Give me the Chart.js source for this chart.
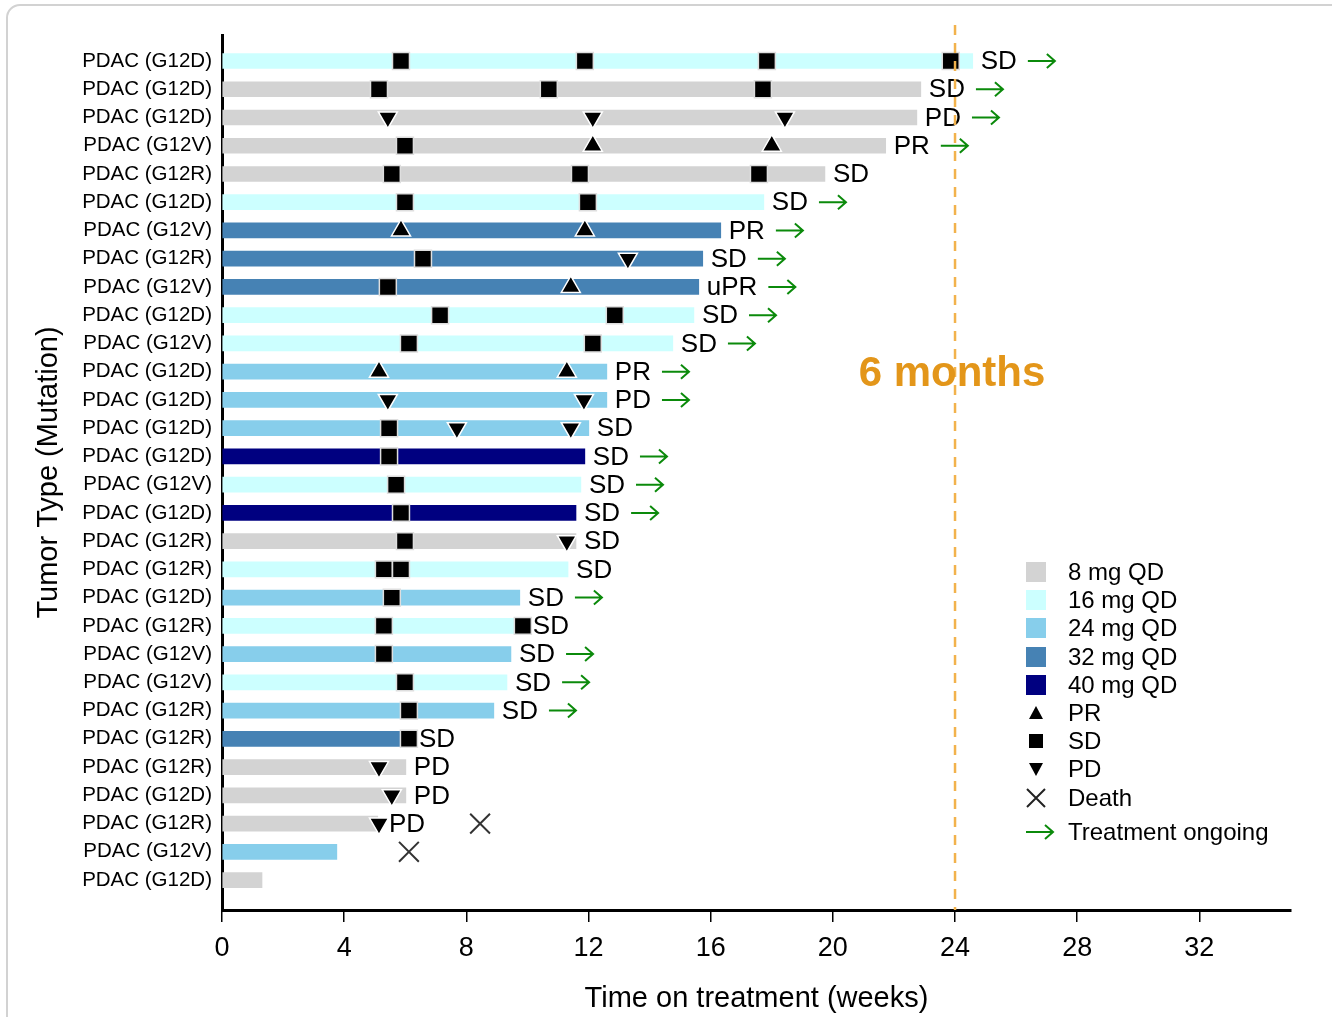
<!DOCTYPE html>
<html>
<head>
<meta charset="utf-8">
<script src="https://cdn.jsdelivr.net/npm/chart.js@4.4.1/dist/chart.umd.min.js"></script>
<style>
  html, body { margin: 0; padding: 0; background: #ffffff; overflow: hidden; }
  #frame {
    position: absolute; left: 6px; top: 4px; width: 1340px; height: 1040px;
    border: 2px solid #d2d2d2; border-radius: 14px; box-sizing: border-box;
  }
  #swim { position: absolute; left: 0; top: 0; }
</style>
</head>
<body>
<div id="frame"></div>
<canvas id="swim" width="1332" height="1017"></canvas>
<script>
// Patients, top to bottom
const rowLabels = [
  'PDAC (G12D)', 'PDAC (G12D)', 'PDAC (G12D)', 'PDAC (G12V)', 'PDAC (G12R)',
  'PDAC (G12D)', 'PDAC (G12V)', 'PDAC (G12R)', 'PDAC (G12V)', 'PDAC (G12D)',
  'PDAC (G12V)', 'PDAC (G12D)', 'PDAC (G12D)', 'PDAC (G12D)', 'PDAC (G12D)',
  'PDAC (G12V)', 'PDAC (G12D)', 'PDAC (G12R)', 'PDAC (G12R)', 'PDAC (G12D)',
  'PDAC (G12R)', 'PDAC (G12V)', 'PDAC (G12V)', 'PDAC (G12R)', 'PDAC (G12R)',
  'PDAC (G12R)', 'PDAC (G12D)', 'PDAC (G12R)', 'PDAC (G12V)', 'PDAC (G12D)'
];

// Dose level (mg QD) per patient
const doseMg = [16, 8, 8, 8, 8, 16, 32, 32, 32, 16, 16, 24, 24, 24, 40,
                16, 40, 8, 16, 24, 16, 24, 16, 24, 32, 8, 8, 8, 24, 8];

// Time on treatment (weeks)
const weeksOnTx = [24.58, 22.88, 22.75, 21.73, 19.74, 17.74, 16.33, 15.74, 15.61, 15.45,
                   14.76, 12.60, 12.60, 12.01, 11.88, 11.75, 11.59, 11.59, 11.33, 9.75,
                   9.66, 9.46, 9.33, 8.90, 5.83, 6.02, 6.02, 5.10, 3.76, 1.31];

// Best overall response and ongoing-treatment flag per patient
const bestResponse = ['SD', 'SD', 'PD', 'PR', 'SD', 'SD', 'PR', 'SD', 'uPR', 'SD',
                      'SD', 'PR', 'PD', 'SD', 'SD', 'SD', 'SD', 'SD', 'SD', 'SD',
                      'SD', 'SD', 'SD', 'SD', 'SD', 'PD', 'PD', 'PD', '', ''];
const ongoing = [1, 1, 1, 1, 0, 1, 1, 1, 1, 1, 1, 1, 1, 0, 1, 1, 1, 0, 0, 1,
                 0, 1, 1, 1, 0, 0, 0, 0, 0, 0];

// Tumour assessments: [row, week]
const prAssess = [[3, 12.14], [3, 18.0], [6, 5.86], [6, 11.88], [8, 11.42], [11, 5.14], [11, 11.29]];
const sdAssess = [
  [0, 5.86], [0, 11.88], [0, 17.84], [0, 23.86],
  [1, 5.14], [1, 10.70], [1, 17.71],
  [3, 5.99],
  [4, 5.56], [4, 11.72], [4, 17.58],
  [5, 5.99], [5, 11.98],
  [7, 6.58], [8, 5.43],
  [9, 7.14], [9, 12.86],
  [10, 6.12], [10, 12.14],
  [13, 5.47], [14, 5.47], [15, 5.70], [16, 5.86], [17, 5.99],
  [18, 5.30], [18, 5.86], [19, 5.56],
  [20, 5.30], [20, 9.85],
  [21, 5.30], [22, 5.99], [23, 6.12], [24, 6.12]
];
const pdAssess = [[2, 5.43], [2, 12.14], [2, 18.43], [7, 13.29], [12, 5.43], [12, 11.85],
                  [13, 7.69], [13, 11.42], [17, 11.29], [25, 5.14], [26, 5.56], [27, 5.14]];
const deaths = [[27, 8.45], [28, 6.12]];

// Axis ticks
const xTicks = [0, 4, 8, 12, 16, 20, 24, 28, 32];
const milestoneWeek = 24;

const doseColors = { 8: '#d3d3d3', 16: '#ccffff', 24: '#87ceeb', 32: '#4682b4', 40: '#000080' };
const doseNames = ['8 mg QD', '16 mg QD', '24 mg QD', '32 mg QD', '40 mg QD'];
const doseKeys = [8, 16, 24, 32, 40];

const FONT = "'Liberation Sans', Arial, sans-serif";
const GREEN = '#0b8a0b';

const toPts = arr => arr.map(([r, w]) => ({ x: w, y: r }));

function drawArrow(ctx, x0, x1, y) {
  ctx.save();
  ctx.strokeStyle = GREEN;
  ctx.lineWidth = 2;
  ctx.beginPath();
  ctx.moveTo(x0, y);
  ctx.lineTo(x1, y);
  ctx.moveTo(x1 - 8, y - 7);
  ctx.lineTo(x1, y);
  ctx.lineTo(x1 - 8, y + 7);
  ctx.stroke();
  ctx.restore();
}

// Response labels, ongoing arrows, 24-week reference line
const annotations = {
  id: 'annotations',
  afterDatasetsDraw(chart) {
    const { ctx, scales: { x, y } } = chart;
    ctx.save();
    ctx.font = `26px ${FONT}`;
    ctx.fillStyle = '#000';
    ctx.textBaseline = 'middle';
    ctx.textAlign = 'left';
    const allAssess = [...prAssess, ...sdAssess, ...pdAssess];
    rowLabels.forEach((_, i) => {
      if (!bestResponse[i]) return;
      const yy = y.getPixelForValue(i) + 1;
      let lx = x.getPixelForValue(weeksOnTx[i]) + 8;
      allAssess.filter(a => a[0] === i).forEach(a => {
        lx = Math.max(lx, x.getPixelForValue(a[1]) + 10);
      });
      ctx.fillText(bestResponse[i], lx, yy);
      if (ongoing[i]) {
        const tw = ctx.measureText(bestResponse[i]).width;
        drawArrow(ctx, lx + tw + 11, lx + tw + 38, yy - 1);
      }
    });

    // 24-week line
    const px = x.getPixelForValue(milestoneWeek);
    ctx.strokeStyle = '#f2b24c';
    ctx.lineWidth = 2.5;
    ctx.setLineDash([10, 8]);
    ctx.beginPath();
    ctx.moveTo(px, 25);
    ctx.lineTo(px, chart.chartArea.bottom);
    ctx.stroke();
    ctx.setLineDash([]);

    ctx.font = `bold 42px ${FONT}`;
    ctx.fillStyle = '#e3961a';
    ctx.textAlign = 'center';
    ctx.fillText('6 months', px - 3, y.getPixelForValue(11.1));
    ctx.restore();
  }
};

// Key for dose colours and symbols
const keyPlugin = {
  id: 'keyPlugin',
  afterDraw(chart) {
    const { ctx } = chart;
    const sx = 1036, tx = 1068;
    const ys = [572, 600, 628, 657, 685, 713, 741, 769, 798, 832];
    ctx.save();
    ctx.font = `24px ${FONT}`;
    ctx.textBaseline = 'middle';
    ctx.textAlign = 'left';
    ctx.fillStyle = '#000';
    doseKeys.forEach((d, k) => {
      ctx.fillStyle = doseColors[d];
      ctx.fillRect(sx - 10, ys[k] - 10, 20, 20);
      ctx.fillStyle = '#000';
      ctx.fillText(doseNames[k], tx, ys[k] + 1);
    });
    // PR
    let yy = ys[5];
    ctx.beginPath();
    ctx.moveTo(sx, yy - 7); ctx.lineTo(sx + 7, yy + 6); ctx.lineTo(sx - 7, yy + 6); ctx.closePath();
    ctx.fill();
    ctx.fillText('PR', tx, yy + 1);
    // SD
    yy = ys[6];
    ctx.fillRect(sx - 7, yy - 7, 14, 14);
    ctx.fillText('SD', tx, yy + 1);
    // PD
    yy = ys[7];
    ctx.beginPath();
    ctx.moveTo(sx - 7, yy - 6); ctx.lineTo(sx + 7, yy - 6); ctx.lineTo(sx, yy + 7); ctx.closePath();
    ctx.fill();
    ctx.fillText('PD', tx, yy + 1);
    // Death
    yy = ys[8];
    ctx.strokeStyle = '#222';
    ctx.lineWidth = 2;
    ctx.beginPath();
    ctx.moveTo(sx - 9, yy - 9); ctx.lineTo(sx + 9, yy + 9);
    ctx.moveTo(sx + 9, yy - 9); ctx.lineTo(sx - 9, yy + 9);
    ctx.stroke();
    ctx.fillText('Death', tx, yy + 1);
    // Ongoing
    yy = ys[9];
    drawArrow(ctx, sx - 10, sx + 17, yy);
    ctx.fillText('Treatment ongoing', tx, yy + 1);
    ctx.restore();
  }
};

const markerBase = { type: 'scatter', borderWidth: 1.5, pointHoverRadius: 0 };

new Chart(document.getElementById('swim'), {
  type: 'bar',
  data: {
    datasets: [
      {
        type: 'bar',
        label: 'Time on treatment',
        data: weeksOnTx.map((w, i) => ({ x: [0, w], y: i })),
        backgroundColor: doseMg.map(d => doseColors[d]),
        barThickness: 15,
        borderWidth: 0,
        order: 2
      },
      Object.assign({}, markerBase, {
        label: 'PR', data: toPts(prAssess), pointStyle: 'triangle', pointRadius: 11,
        backgroundColor: '#000', borderColor: '#ffffff', order: 1
      }),
      Object.assign({}, markerBase, {
        label: 'SD', data: toPts(sdAssess), pointStyle: 'rect', pointRadius: 12,
        backgroundColor: '#000', borderColor: '#dedede', order: 1
      }),
      Object.assign({}, markerBase, {
        label: 'PD', data: toPts(pdAssess), pointStyle: 'triangle', pointRotation: 180, pointRadius: 11,
        backgroundColor: '#000', borderColor: '#ffffff', order: 1
      }),
      Object.assign({}, markerBase, {
        label: 'Death', data: toPts(deaths), pointStyle: 'crossRot', pointRadius: 14,
        backgroundColor: '#333', borderColor: '#333', borderWidth: 2, order: 1
      })
    ]
  },
  options: {
    indexAxis: 'y',
    responsive: false,
    animation: false,
    devicePixelRatio: 1,
    layout: { padding: { left: 0, top: 35, right: 41, bottom: 0 } },
    plugins: { legend: { display: false }, tooltip: { enabled: false } },
    scales: {
      x: {
        type: 'linear',
        position: 'bottom',
        min: 0,
        max: 35,
        offset: false,
        afterBuildTicks: s => { s.ticks = xTicks.map(v => ({ value: v })); },
        afterFit: s => { s.height = 107; },
        ticks: { color: '#000', font: { family: FONT, size: 27 }, padding: 10, includeBounds: false, maxRotation: 0 },
        grid: { display: true, drawOnChartArea: false, drawTicks: true, tickLength: 12, color: '#000', lineWidth: 1.5, offset: false },
        border: { display: true, color: '#000', width: 3 },
        title: {
          display: true, text: 'Time on treatment (weeks)', color: '#000',
          font: { family: FONT, size: 29, lineHeight: 1.2 }, padding: { top: 0, bottom: 1 }
        }
      },
      y: {
        type: 'linear',
        position: 'left',
        reverse: true,
        min: -0.92,
        max: 30.06,
        offset: false,
        afterBuildTicks: s => { s.ticks = rowLabels.map((_, i) => ({ value: i })); },
        afterFit: s => { s.width = 222; },
        ticks: {
          color: '#000', font: { family: FONT, size: 20.5 }, padding: 10, autoSkip: false,
          callback: v => rowLabels[v]
        },
        grid: { display: false, drawTicks: false, offset: false },
        border: { display: true, color: '#000', width: 3 },
        title: {
          display: true, text: 'Tumor Type (Mutation)', color: '#000',
          font: { family: FONT, size: 29, lineHeight: 1.2 }, padding: { top: 32, bottom: 0 }
        }
      }
    }
  },
  plugins: [annotations, keyPlugin]
});
</script>
</body>
</html>
